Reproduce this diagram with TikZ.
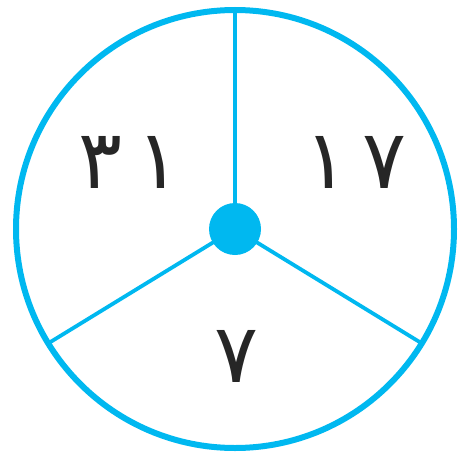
\documentclass[tikz,border=0pt]{standalone}
\usepackage{fontspec}
\newfontfamily\arabicfont[Script=Arabic]{DejaVu Sans}
\definecolor{wheelblue}{RGB}{0,184,240}
\usetikzlibrary{positioning}

\begin{document}
\begin{tikzpicture}[x=1pt, y=-1pt,
        rim/.style={draw=wheelblue, line width=6pt},
        spoke/.style={draw=wheelblue, line width=3.8pt},
        num/.style={font=\arabicfont\fontsize{82}{90}\selectfont, text=black!85, inner sep=0pt}
    ]
        \useasboundingbox (0,0) rectangle (460,455);

        % Wheel
        \coordinate (hub) at (235,229);
        \draw[rim] (hub) circle (219);
        \coordinate (top) at (235,10);
        \coordinate (lowleft) at (48.3,343.3);
        \coordinate (lowright) at (421.7,343.3);

        % Spokes
        \draw[spoke] (hub) -- (top);
        \draw[spoke] (hub) -- (lowleft);
        \draw[spoke] (hub) -- (lowright);
        \fill[wheelblue] (hub) circle (26);

        % Numbers
        \node[num] (left) at (130,162) {۳\hspace{14pt}۱};
        \node[num] (right) at (356,162) {۱\hspace{14pt}۷};
        \node[num] (bottom) at (237,356) {۷};

    \end{tikzpicture}
\end{document}
